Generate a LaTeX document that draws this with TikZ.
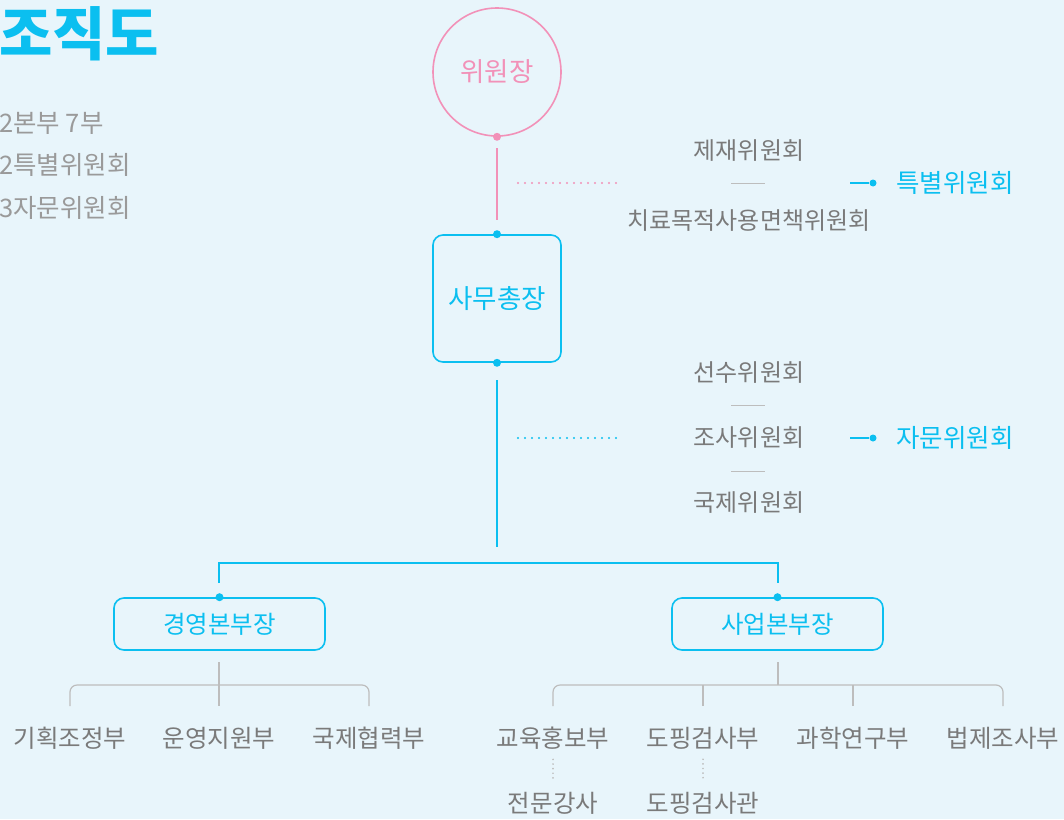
\documentclass[tikz,border=0pt]{standalone}
\usepackage{fontspec}
\setmainfont{Noto Sans CJK KR}
\usetikzlibrary{positioning}
\definecolor{bg}{HTML}{E8F5FB}
\definecolor{cy}{HTML}{0BBFF0}
\definecolor{pk}{HTML}{F291B8}
\definecolor{tg}{HTML}{7A7A7A}
\definecolor{lg}{HTML}{9A9A9A}
\definecolor{ln}{HTML}{BDBDBD}
\tikzset{
  lbl/.style={text=tg, inner sep=0pt, font=\fontsize{24}{26}\selectfont},
  dept/.style={text=tg, inner sep=0pt, font=\fontsize{24.5}{26}\selectfont},
  blbl/.style={text=cy, inner sep=0pt, font=\fontsize{25.5}{28}\selectfont},
  side/.style={text=lg, inner sep=0pt, anchor=west, font=\fontsize{25.5}{28}\selectfont},
  cybox/.style={draw=cy, line width=1.6pt, rounded corners=10pt, text=cy, inner sep=0pt},
  dotc/.style={circle, fill=#1, inner sep=0pt, minimum size=8pt},
  cyl/.style={draw=cy, line width=1.3pt},
  pkl/.style={draw=pk, line width=1.3pt},
  grl/.style={draw=ln, line width=1.2pt},
  shortl/.style={draw=ln, line width=1pt},
  dotl/.style={line width=2.3pt, line cap=round, dash pattern=on 0pt off 7pt},
  subdot/.style={draw=ln, line width=1.9pt, line cap=round, dash pattern=on 0pt off 4.6pt},
}
\begin{document}
\begin{tikzpicture}[x=1pt,y=-1pt]
\useasboundingbox[fill=bg] (0,0) rectangle (1064,819);
% title and summary
\node[text=cy, inner sep=0pt, anchor=west, font=\fontsize{58}{62}\bfseries] (title) at (-1,34) {조직도};
\node[side] (s1) at (-1,123) {2본부 7부};
\node[side] (s2) at (-1,165) {2특별위원회};
\node[side] (s3) at (-1,208) {3자문위원회};
% chairman
\node[circle, draw=pk, line width=1.6pt, minimum size=128pt, inner sep=0pt, text=pk, font=\fontsize{26.5}{28}\selectfont] (chair) at (497,72) {위원장};
\node[dotc=pk] (chairdot) at (chair.south) {};
\coordinate (pkA) at (497,148);
\coordinate (pkB) at (497,220);
\draw[pkl] (pkA) -- (pkB);
% secretary general
\node[cybox, minimum width=128pt, minimum height=127pt, font=\fontsize{26.5}{28}\selectfont] (sg) at (497,298.5) {사무총장};
\node[dotc=cy] (sgtop) at (sg.north) {};
\node[dotc=cy] (sgbot) at (sg.south) {};
\coordinate (cyA) at (497,380);
\coordinate (cyB) at (497,547);
\draw[cyl] (cyA) -- (cyB);
% special committees
\coordinate (pd1) at (518,183);
\coordinate (pd2) at (623,183);
\draw[dotl, draw=pk] (pd1) -- (pd2);
\node[lbl] (c1) at (749,151) {제재위원회};
\node[lbl] (c2) at (749,221) {치료목적사용면책위원회};
\coordinate (sl1a) at (731,183); \coordinate (sl1b) at (765,183);
\draw[shortl] (sl1a) -- (sl1b);
\coordinate (ar1) at (850,183);
\node[dotc=cy, minimum size=7pt] (ad1) at (873,183) {};
\draw[cyl] (ar1) -- (ad1);
\node[blbl, anchor=west] (sp) at (896,183) {특별위원회};
% advisory committees
\coordinate (cd1) at (518,438);
\coordinate (cd2) at (623,438);
\draw[dotl, draw=cy] (cd1) -- (cd2);
\node[lbl] (a1) at (749,373) {선수위원회};
\node[lbl] (a2) at (749,438) {조사위원회};
\node[lbl] (a3) at (749,503) {국제위원회};
\coordinate (sl2a) at (731,405); \coordinate (sl2b) at (765,405);
\draw[shortl] (sl2a) -- (sl2b);
\coordinate (sl3a) at (731,471); \coordinate (sl3b) at (765,471);
\draw[shortl] (sl3a) -- (sl3b);
\coordinate (ar2) at (850,438);
\node[dotc=cy, minimum size=7pt] (ad2) at (873,438) {};
\draw[cyl] (ar2) -- (ad2);
\node[blbl, anchor=west] (ad) at (896,438) {자문위원회};
% headquarters
\node[cybox, minimum width=211pt, minimum height=52pt, font=\fontsize{24.5}{26}\selectfont] (hq1) at (219.5,624) {경영본부장};
\node[cybox, minimum width=211pt, minimum height=52pt, font=\fontsize{24.5}{26}\selectfont] (hq2) at (777.5,624) {사업본부장};
\node[dotc=cy] (hq1dot) at (hq1.north) {};
\node[dotc=cy] (hq2dot) at (hq2.north) {};
\coordinate (h1a) at (219,583);
\coordinate (h2a) at (778,583);
\draw[cyl] (h1a) |- (h2a |- 0,563) -- (h2a);
% departments
\foreach \n/\x/\t in {d1/70/기획조정부, d2/219/운영지원부, d3/369/국제협력부, d4/553/교육홍보부, d5/703/도핑검사부, d6/853/과학연구부, d7/1003/법제조사부}{
  \node[dept] (\n) at (\x,738) {\t};
}
\node[dept] (e1) at (553,803) {전문강사};
\node[dept] (e2) at (703,803) {도핑검사관};
% gray brackets
\coordinate (g1) at (219,662);
\draw[grl] (g1) -- (219,706);
\draw[grl, rounded corners=7pt] (d1.north |- 0,706) -- (70,685) -- (369,685) -- (d3.north |- 0,706);
\coordinate (g2) at (778,662);
\draw[grl] (g2) -- (778,685);
\draw[grl, rounded corners=7pt] (d4.north |- 0,706) -- (553,685) -- (1003,685) -- (d7.north |- 0,706);
\draw[grl] (703,685) -- (d5.north |- 0,706);
\draw[grl] (853,685) -- (d6.north |- 0,706);
% dotted sub links
\draw[subdot] (d4.south) ++(0,10) coordinate (v1a) -- (553,781);
\draw[subdot] (d5.south) ++(0,10) coordinate (v2a) -- (703,781);
\end{tikzpicture}
\end{document}
